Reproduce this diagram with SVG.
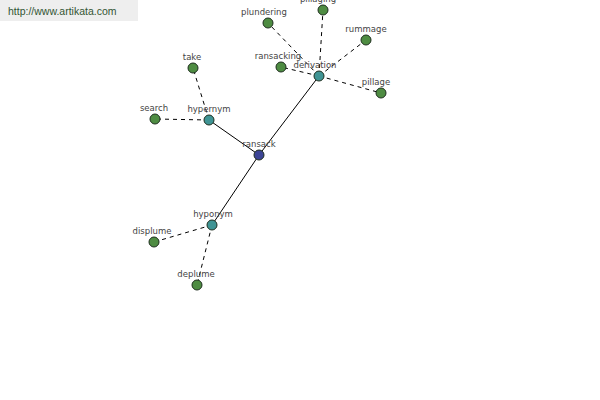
<svg xmlns="http://www.w3.org/2000/svg" width="600" height="400" viewBox="0 0 600 400">
<style>
.e{stroke:#000;stroke-width:1;fill:none}
.d{stroke-dasharray:4,4}
.n{stroke:#1e2e1e;stroke-width:1}
.leaf{fill:#4e8c42}
.mid{fill:#3f9494}
.root{fill:#3d4596}
text{font-family:"DejaVu Sans",Verdana,sans-serif;font-size:8.5px;fill:#444;text-anchor:middle}
</style>
<rect x="0" y="0" width="138" height="21" fill="#eeeeee"/>
<text x="8" y="15" style="text-anchor:start;font-size:10.5px;fill:#335533;font-family:'Liberation Sans',Arial,sans-serif">http://www.artikata.com</text>
<g id="connectors">
<line class="e" x1="259" y1="155" x2="209" y2="120"/>
<line class="e" x1="259" y1="155" x2="319" y2="76"/>
<line class="e" x1="259" y1="155" x2="212" y2="225"/>
<line class="e d" x1="209" y1="120" x2="193" y2="68"/>
<line class="e d" x1="209" y1="120" x2="155" y2="119"/>
<line class="e d" x1="319" y1="76" x2="268" y2="23"/>
<line class="e d" x1="319" y1="76" x2="323" y2="10"/>
<line class="e d" x1="319" y1="76" x2="366" y2="40"/>
<line class="e d" x1="319" y1="76" x2="281" y2="67"/>
<line class="e d" x1="319" y1="76" x2="381" y2="93"/>
<line class="e d" x1="212" y1="225" x2="154" y2="242"/>
<line class="e d" x1="212" y1="225" x2="197" y2="285"/>
</g>
<g id="ransack"><circle class="n root" cx="259" cy="155" r="5"/><text x="259" y="147">ransack</text></g>
<g id="hypernym"><circle class="n mid" cx="209" cy="120" r="5"/><text x="209" y="112">hypernym</text></g>
<g id="derivation"><circle class="n mid" cx="319" cy="76" r="5"/><text x="315" y="68">derivation</text></g>
<g id="hyponym"><circle class="n mid" cx="212" cy="225" r="5"/><text x="213" y="217">hyponym</text></g>
<g id="take"><circle class="n leaf" cx="193" cy="68" r="5"/><text x="192" y="60">take</text></g>
<g id="search"><circle class="n leaf" cx="155" cy="119" r="5"/><text x="154" y="111">search</text></g>
<g id="plundering"><circle class="n leaf" cx="268" cy="23" r="5"/><text x="264" y="15">plundering</text></g>
<g id="pillaging"><circle class="n leaf" cx="323" cy="10" r="5"/><text x="318" y="2">pillaging</text></g>
<g id="rummage"><circle class="n leaf" cx="366" cy="40" r="5"/><text x="366" y="32">rummage</text></g>
<g id="ransacking"><circle class="n leaf" cx="281" cy="67" r="5"/><text x="278" y="59">ransacking</text></g>
<g id="pillage"><circle class="n leaf" cx="381" cy="93" r="5"/><text x="376" y="85">pillage</text></g>
<g id="displume"><circle class="n leaf" cx="154" cy="242" r="5"/><text x="152" y="234">displume</text></g>
<g id="deplume"><circle class="n leaf" cx="197" cy="285" r="5"/><text x="196" y="277">deplume</text></g>
</svg>
